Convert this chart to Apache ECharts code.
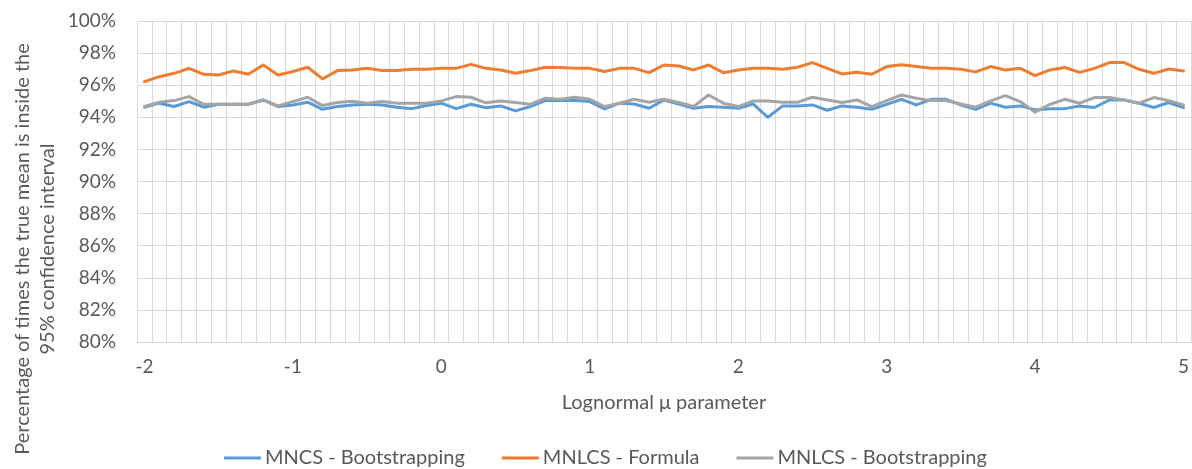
<!DOCTYPE html>
<html>
<head>
<meta charset="utf-8">
<script src="https://cdn.jsdelivr.net/npm/echarts@6/dist/echarts.min.js"></script>
<style>
html,body{margin:0;padding:0;background:#fff;}
#chart{width:1192px;height:469px;}
</style>
</head>
<body>
<div id="chart"></div>
<script>
// x categories: -2.0 .. 5.0 step 0.1
const categories = ["-2","-1.9","-1.8","-1.7","-1.6","-1.5","-1.4","-1.3","-1.2","-1.1",
"-1","-0.9","-0.8","-0.7","-0.6","-0.5","-0.4","-0.3","-0.2","-0.1",
"0","0.1","0.2","0.3","0.4","0.5","0.6","0.7","0.8","0.9",
"1","1.1","1.2","1.3","1.4","1.5","1.6","1.7","1.8","1.9",
"2","2.1","2.2","2.3","2.4","2.5","2.6","2.7","2.8","2.9",
"3","3.1","3.2","3.3","3.4","3.5","3.6","3.7","3.8","3.9",
"4","4.1","4.2","4.3","4.4","4.5","4.6","4.7","4.8","4.9","5"];

const mncsBootstrapping = [94.63,94.88,94.67,94.98,94.63,94.81,94.81,94.81,95.08,94.67,
94.77,94.94,94.50,94.67,94.77,94.81,94.77,94.63,94.54,94.73,
94.88,94.54,94.81,94.60,94.71,94.40,94.67,95.04,95.04,95.04,
94.98,94.52,94.88,94.83,94.56,95.08,94.83,94.56,94.67,94.63,
94.56,94.83,94.00,94.71,94.71,94.77,94.44,94.71,94.63,94.50,
94.81,95.12,94.77,95.12,95.12,94.77,94.50,94.88,94.63,94.71,
94.46,94.54,94.54,94.71,94.61,95.08,95.08,94.88,94.61,94.92,94.61];

const mnlcsFormula = [96.22,96.53,96.74,97.05,96.68,96.64,96.89,96.68,97.26,96.64,
96.85,97.12,96.39,96.91,96.95,97.05,96.91,96.91,96.99,96.99,
97.05,97.05,97.30,97.05,96.95,96.74,96.91,97.12,97.10,97.05,
97.05,96.85,97.05,97.05,96.78,97.26,97.20,96.95,97.26,96.78,
96.95,97.05,97.05,96.99,97.12,97.41,97.05,96.70,96.80,96.68,
97.16,97.28,97.16,97.05,97.05,96.99,96.83,97.16,96.95,97.05,
96.60,96.95,97.10,96.80,97.05,97.41,97.41,96.99,96.74,97.01,96.89];

const mnlcsBootstrapping = [94.67,94.94,95.04,95.29,94.81,94.81,94.81,94.81,95.08,94.71,
94.98,95.25,94.73,94.92,95.00,94.88,94.98,94.88,94.88,94.88,
95.02,95.29,95.25,94.90,95.02,94.92,94.81,95.19,95.12,95.25,
95.12,94.67,94.88,95.12,94.94,95.12,94.92,94.67,95.39,94.88,
94.67,95.02,95.02,94.94,94.94,95.25,95.08,94.92,95.08,94.67,
95.04,95.39,95.19,95.04,95.04,94.83,94.63,95.02,95.35,94.98,
94.32,94.81,95.12,94.88,95.23,95.23,95.08,94.88,95.23,95.04,94.77];

const seriesNames = ["MNCS - Bootstrapping","MNLCS - Formula","MNLCS - Bootstrapping"];
const colors = ["#5B9BD5","#ED7D31","#A5A5A5"];
const yTitle = "Percentage of times the true mean is inside the\n95% confidence interval";
const xTitle = "Lognormal \u03bc parameter";

const FONT = "Lato";
const TXT = "#595959";
const GRID = "#D9D9D9";

const chart = echarts.init(document.getElementById('chart'), null, {renderer:'canvas'});
const mk = (name, data, color) => ({
  name, type:'line', data, symbol:'none', smooth:false,
  lineStyle:{color, width:3, cap:'round', join:'round'},
  itemStyle:{color}, animation:false
});
chart.setOption({
  animation:false,
  textStyle:{fontFamily:FONT},
  grid:{left:137, right:-4, top:21, bottom:127, containLabel:false},
  xAxis:{
    type:'category', data:categories, boundaryGap:true,
    axisLine:{show:true, lineStyle:{color:GRID, width:1}},
    axisTick:{show:false},
    splitLine:{show:true, interval:0, lineStyle:{color:GRID, width:1}},
    axisLabel:{interval:9, color:TXT, fontSize:19, fontFamily:FONT, margin:15},
    name:xTitle, nameLocation:'middle', nameGap:51,
    nameTextStyle:{color:TXT, fontSize:20, fontFamily:FONT}
  },
  yAxis:{
    type:'value', min:80, max:100, interval:2,
    axisLine:{show:false}, axisTick:{show:false},
    splitLine:{show:true, lineStyle:{color:GRID, width:1}},
    axisLabel:{formatter:'{value}%', color:TXT, fontSize:19, fontFamily:FONT, margin:21}
  },
  legend:{
    data:seriesNames.map(n => ({name:n, icon:'rect'})),
    left:219, top:443, itemWidth:37, itemHeight:3, itemGap:37,
    textStyle:{color:TXT, fontSize:20, fontFamily:FONT, padding:[0,0,0,-1]}
  },
  graphic:[{
    type:'text', x:35, y:249, rotation:Math.PI/2,
    style:{text:yTitle, textAlign:'center', textVerticalAlign:'middle',
      fill:TXT, fontSize:20, fontFamily:FONT, lineHeight:25}
  }],
  series:[
    mk(seriesNames[0], mncsBootstrapping, colors[0]),
    mk(seriesNames[1], mnlcsFormula, colors[1]),
    mk(seriesNames[2], mnlcsBootstrapping, colors[2])
  ]
});
</script>
</body>
</html>
